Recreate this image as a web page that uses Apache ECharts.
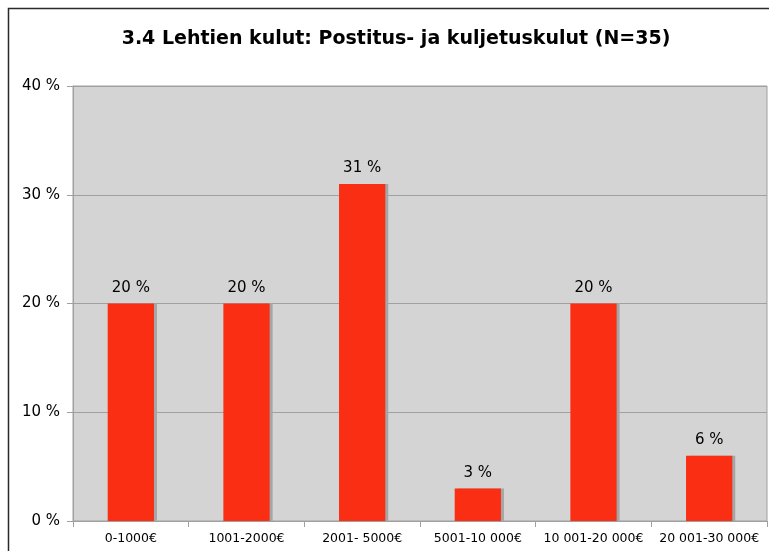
<!DOCTYPE html>
<html>
<head>
<meta charset="utf-8">
<script src="https://cdn.jsdelivr.net/npm/echarts@6/dist/echarts.min.js"></script>
<style>
  html, body { margin: 0; padding: 0; background: #fff; }
  #chart { width: 769px; height: 551px; }
</style>
</head>
<body>
<div id="chart"></div>
<script>
// kategoriat ja arvot (%)
var categories = ['0-1000€', '1001-2000€', '2001- 5000€', '5001-10 000€', '10 001-20 000€', '20 001-30 000€'];
var values = [20, 20, 31, 3, 20, 6];
var yTicks = [0, 10, 20, 30, 40];

var chart = echarts.init(document.getElementById('chart'));
var option = {
  animation: false,
  textStyle: { fontFamily: 'DejaVu Sans' },
  title: {
    text: '3.4 Lehtien kulut: Postitus- ja kuljetuskulut (N=35)',
    left: 391,
    textAlign: 'center',
    top: 25,
    textStyle: { fontSize: 19, fontWeight: 'bold', color: '#000', fontFamily: 'DejaVu Sans' }
  },
  // ulkokehys
  graphic: [{
    type: 'rect',
    shape: { x: 8.5, y: 8.5, width: 800, height: 600 },
    style: { fill: 'none', stroke: '#2a2a2a', lineWidth: 1.5 },
    silent: true
  }],
  grid: {
    left: 73, top: 86, right: 2, bottom: 30,
    show: true,
    backgroundColor: '#d4d4d4',
    borderColor: '#a0a0a0',
    borderWidth: 1
  },
  xAxis: {
    type: 'category',
    data: categories,
    axisLine: { lineStyle: { color: '#a0a0a0' } },
    axisTick: { show: true, length: 6, lineStyle: { color: '#a0a0a0' } },
    axisLabel: { color: '#000', fontSize: 12.5, margin: 11, interval: 0 }
  },
  yAxis: {
    type: 'value',
    min: yTicks[0],
    max: yTicks[yTicks.length - 1],
    interval: 10,
    axisLine: { show: true, lineStyle: { color: '#a0a0a0' } },
    axisTick: { show: true, length: 6, lineStyle: { color: '#a0a0a0' } },
    axisLabel: { color: '#000', fontSize: 15, margin: 13, formatter: '{value} %' },
    splitLine: { lineStyle: { color: '#a0a0a0' } }
  },
  series: [{
    type: 'bar',
    data: values,
    barWidth: '40%',
    itemStyle: {
      color: '#f92e13',
      shadowColor: '#a6a6a6',
      shadowOffsetX: 3,
      shadowOffsetY: 0,
      shadowBlur: 0
    },
    label: {
      show: true,
      position: 'top',
      distance: 8,
      color: '#000',
      fontSize: 15,
      formatter: '{c} %'
    }
  }]
};
chart.setOption(option);
</script>
</body>
</html>
